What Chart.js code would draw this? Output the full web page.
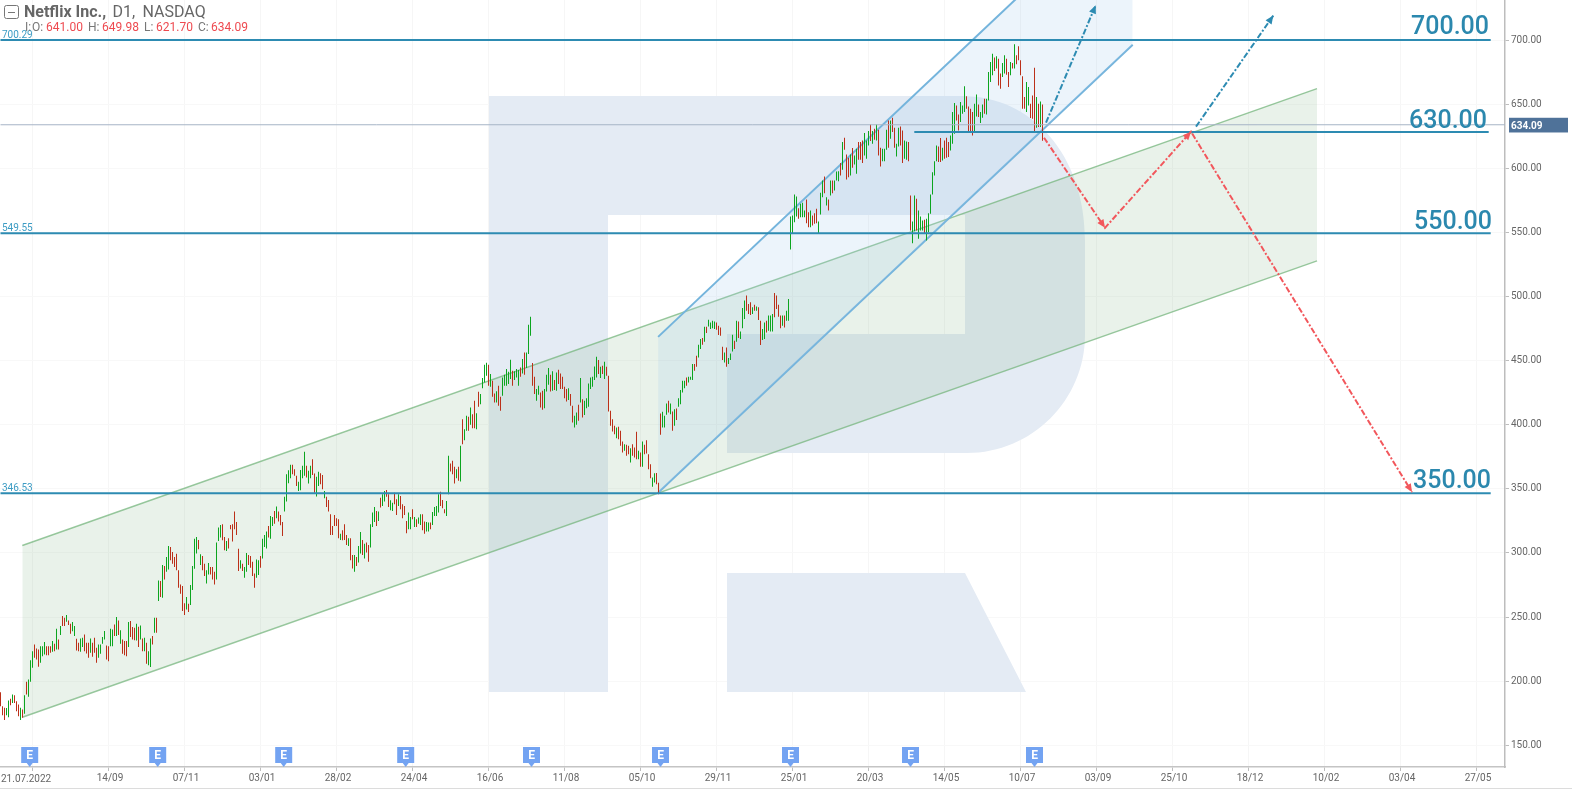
<!DOCTYPE html>
<html>
<head>
<meta charset="utf-8">
<title>Netflix Inc., D1, NASDAQ</title>
<script src="https://cdn.jsdelivr.net/npm/chart.js@4"></script>
<style>
html, body { margin: 0; padding: 0; background: #fff; }
canvas { display: block; }
</style>
</head>
<body>
<canvas id="chart" width="1572" height="789"></canvas>
<script>
// daily bars, one block per 10 sessions
let barHighs = [
191.4,180.5,179.2,179,184.9,186.2,189.6,189,184.4,181.8,
179.2,177.9,189.1,199.5,201.3,216.4,223.4,228.6,225.5,224.7,
227.3,227.3,230.5,227.3,227.3,227.3,231.3,229.2,240.9,232.6,
243,250.8,249.5,251.6,247.4,244.8,246.1,243,233.1,229.9,
233.3,233.9,236.5,229.9,229.9,233.3,229.9,233.9,226,228.6,
228.6,234.4,239.1,227.9,227.3,240.9,240.4,244.3,250,247.4,
239.8,232.6,231.3,231.3,246.1,246.9,242.2,241.7,244.8,242.5,
243.5,233.3,233.9,229.9,223.4,233.3,235.2,249.5,249.5,278.6,
278.1,290.6,289.8,296.9,305.5,304.7,300.8,296.9,299.5,286.5,
275.5,274.2,260.7,265.6,260.4,275,289.8,311.2,312.5,310.2,
299,297.7,291.7,286.5,292.2,289.1,289.1,285.4,308.1,319.8,
321.9,322.4,312.5,309.4,311.5,321.9,322.4,332.3,324.2,303.4,
294.3,291.7,289.1,300,298.4,297.7,293.2,284.1,295,294.3,
297.7,311.2,314.1,316.7,321.1,328.9,328.1,332.8,336.2,332.3,
329.7,324.2,343.8,361.5,364.6,368.8,368.8,365.4,360.2,355.5,
364.8,368,378.9,368,364.1,368,373.2,362,359.4,363.3,
362.2,360.9,348.4,343.8,341.4,330.2,321.1,329.7,327.1,326.3,
315.1,317.7,322.4,314.1,311.5,311.5,298.4,298.4,296.9,305.5,
316.4,310.2,307.3,308.1,306.3,322.4,331.5,335.9,332.8,332.3,
343.2,345.8,348.4,349.2,345.8,341.1,339.3,347.1,341.9,345.8,
344.5,338,336.7,325,331.5,328.1,334.1,328.1,326.3,327.6,
330.2,330.2,324.5,324.2,323.7,323.7,332,335.9,336.7,345.8,
347.7,341.4,334.1,340.6,375.8,369.8,371.9,367.2,365.4,367.2,
383.6,404.4,396.6,407,406.3,413.5,408.3,418.8,409.1,425.8,
424,436.5,446.9,448.4,446.9,439.6,434.4,424.5,426.1,430.5,
421.9,437,439.1,443.5,441.4,450.8,442.2,441.7,443.5,442.7,
444.8,451.3,456.5,456.5,478.1,484.4,448.2,437.5,427.9,430.5,
425.3,426.6,427.9,439.1,444.3,439.1,441.7,434.9,440.9,443,
440.1,437.5,429.7,427.9,428.6,424,414.9,407,409.6,415.6,
436.5,420,418.8,420.8,432.3,437,437.5,445.6,453.1,450.5,
445.3,446.1,449.2,445.3,438.3,410.9,404.4,399.2,397.9,398.4,
395.3,387,384.9,384.4,383.6,381.8,384.9,382.3,394.5,379.7,
378.4,387,384.4,388,377.1,369.3,358.9,362.2,362.5,354.9,
408.9,410.2,407,416.7,418.8,416.7,410.4,412.2,412.8,420.8,
427.1,434.4,434.4,437,437.5,437.5,447.4,447.4,453.9,462.5,
466.9,467.7,476.6,476.6,482,479.9,481.2,480.7,479.9,477.3,
476,460.9,456.5,460.4,452.1,455.7,470.3,465.6,481.2,480.7,
472.9,491.1,496.9,500.8,494.3,495.6,491.7,493.7,492.4,491.7,
481.2,474.7,479.9,481.2,485.2,485.2,486.5,502.9,500.8,493.7,
485.2,485.2,485.2,489,498.2,562.5,563.3,579.7,578.1,569,
572.4,573.2,567.2,575.8,565.9,567.2,563.3,565.1,568.5,558.6,
581,590.6,593.8,577.6,575.8,590.6,590.6,590.6,597.7,597.9,
604.2,620.6,624,610.9,608.3,610.9,615.9,610.2,615.4,620.6,
620.6,621.9,627.6,621.9,629.2,634.4,629.2,631,634.4,630.2,
616.2,615.4,615.4,630.2,637.5,637.5,639.6,631.8,619.3,631.8,
632.8,629.7,621.9,621.1,620.6,578.9,558.6,578.9,576.3,567.2,
562.5,559.4,559.9,560.7,565.1,579.7,597.1,605.7,618,617.2,
623.7,616.2,621.9,624,620.6,625.8,644,651,649.2,642.2,
651.8,649.2,664.1,656.3,648.4,646.6,644,650.5,657.8,650,
644,650,654.4,654.4,675.3,683.1,689.6,686.5,687.5,685.7,
674,682.3,688.3,685.7,675.3,683.1,682.3,696.9,688.3,695.3,
684.4,671.9,655.7,667.4,663.5,650.5,657,678.6,655.7,650.5,
652.3,649.98
];
let barLows = [
180.5,173.4,169.8,173.4,171.9,181.2,183,183,176.6,172.7,
169.8,171.4,174.5,189.6,187.8,199.5,210.4,218.2,216.9,211.2,
214.3,219.5,220.8,220.3,220.3,222.1,222.9,223.4,224.7,224.7,
236,243,243,246.4,243.8,237,239,235.2,224,223.4,
222.9,226.6,223.4,221.6,218.2,222.1,219,222.1,214.3,218.2,
221.4,229.2,232.6,217,215.6,227.3,227.3,235.2,235.2,236,
229.2,221.4,220.3,219.5,226.6,234.4,232.6,232,231.8,226.6,
232.6,223.4,223.4,213.5,212.5,211,228.6,237.8,237.8,262.5,
265.6,265.1,279.4,285.4,287.2,294.3,291.7,289.1,286.5,272.9,
268.2,254.7,251.6,256,253.9,259.4,271.1,287.8,299.7,302.9,
290.6,286.5,282,276.3,283.3,283.3,279.4,275.5,279.4,309.4,
312,309.9,302.1,301.6,303.6,318.5,308.9,318.5,314.1,285.9,
288,285.9,280.7,285.4,290.6,288.5,282,272.9,280.7,282.8,
288.5,295.8,304.7,303.6,312,311.2,321.1,322.9,327.1,324.5,
321.6,313.3,332.3,340.1,354.4,358.3,361.5,360.2,352.3,348.4,
348.9,358.3,360.2,358.9,354.2,358.3,360.9,347.1,344,352.3,
353.6,349.7,342.7,335.9,332.3,314.1,314.1,321.1,321.1,311.5,
310.2,309.9,310.2,306.3,305.5,294.3,288,285.4,289.8,292.5,
299.7,298.4,295.8,300.3,293.2,304.2,320.3,324.2,321.1,325,
335.4,336.7,340.1,343.8,335.9,333.3,332.8,338,329.7,336.7,
334.1,327.1,329.7,315.4,318.5,318.5,326.3,320.3,320.3,322.9,
321.9,317.7,315.1,316.7,316.7,318.5,321.9,328.9,328.9,331.5,
336.7,334.9,331,328.9,345.8,363.5,361.5,354.2,358.3,356.3,
355.7,384.9,388,395.3,395.3,400,397.4,397.4,396.6,414.1,
416.1,428.6,433.1,438.3,430.5,429.7,421.9,417.5,417.5,414.8,
410.9,422.7,430.5,430.5,431.8,435.7,430.5,434.9,437,430.5,
437.5,440.1,439.1,444.3,455.2,469.5,430.5,424,418.8,423.4,
413.5,411.7,413,426,431.3,426,426.6,427.1,426.6,431.8,
427.9,427.9,420.8,418.2,419.3,414.9,401.8,397.9,400,403.1,
417.5,405.7,407.6,413,414.1,427.9,429.7,434.9,437,439.6,
436.5,439.6,435.7,438.3,410.4,399.2,394.8,392.7,389.6,388.8,
383.6,378.4,379.7,375.8,377.1,370.6,375.8,374.5,373.2,373.2,
367.2,367.2,377.1,377.6,365.4,358.3,351.6,355,353.7,345.8,
392.2,397.9,397.9,407.8,409.6,408.3,395.3,399.2,403.7,414.1,
416.1,425.3,428.6,430.5,433.1,435.2,434.9,442.2,445.3,452.6,
459.1,462.5,464.8,471.6,476.8,474.7,475.3,474.7,474.2,470,
469.5,450.5,448.7,445.3,447.4,450.5,457.3,459.1,464.8,467.7,
466.9,475.3,482.6,489,486.5,485.7,486.5,489,489,481.8,
462.2,466.1,466.9,472.1,473.4,472.9,472.9,483.9,490.4,484.4,
475.3,477.3,476,481.2,481.2,536.7,549,558.1,562.5,560.7,
562,562,562,557.3,554.2,554.2,555.5,556.8,557.3,549,
564.1,577.6,580.7,571.1,567.2,578.9,580.7,582.8,590.6,590,
594.5,599,614.6,591.4,593.2,594.5,600.5,603.1,595.8,606.8,
606.8,604.2,610.2,607.6,618,621.4,619.3,622.4,621.9,610.2,
601.6,605.7,605.7,614.6,616.2,623.2,628.4,616.2,609.4,617.2,
618,604.2,607.6,606.8,605.7,551.6,541.7,551,551.6,545.1,
551.6,551.6,549,543.8,550.3,564.6,579.7,594.5,605.7,605,
605,606.3,607.6,608.3,608.9,614.1,619.3,627.1,637.5,629.7,
636.2,642.7,644,646.6,628.4,628.4,625.8,628.4,640.6,640.1,
635.4,639.6,642.7,642.2,653.1,667.5,672.7,676,677.9,664.8,
662.2,671.4,674,673.2,663.5,672.7,677.9,677.9,681.3,684.4,
672.7,646.6,646.6,644,649.2,639.3,638.8,629.2,631.8,632.3,
632.3,621.7
];
// G = up bar, R = down bar
let barSides = [
"RRRGGRGRRR","GRGRGGGRRR","GGGRRRGRGR","GRRGRRGGRR","GGRRRGRRRG","GGGRRGGRGR",
"GRRRGRRRGR","GRGRGGRGRG","RGRGGRRRRR","RRRGRGGGGR","GRRGGRRRGG","GRRGRRRRRR",
"GRGGRRRRGG","RGGGRGGRGR","RRGGGGRRRG","GGGRGGRRGG","RRGRRRRRRR","GRRRGRRGRG",
"GRGRRGGGRG","RGGRRGGRRG","RRRRGGRGRG","GRRGGRGGGG","RRRGGRRRGR","GRGGRGRRGR",
"GGGGRGRRGR","RGGGGGRGGG","RGRGGGRRGG","RRGGGRGRGR","RRRRGRRGGR","GRGGGGGGGR",
"GRGRRRRRGR","RRGRRGRRRG","RGRRRRGGRR","RGGGRGRGRG","GGGRGGGRRG","GRGRGGGGRR",
"RRGRGGGRGR","GGGRRRGRGR","RGGRGGGRRR","RGRGGGGGGR","GGGRRGRRRG","GGRGRGRGGG",
"RGRRRGRGGR","RRGGGRGRGR","RGGGRGRRGG","RRGGRRGGRG","GGRGGGGGGR","RGRRRGGGRR",
"GGGRRRRGGR","GGRGGGGRGR","RGGRRGRGRR","RRRGGRRRGR","GR"
].join("");

let tickBars = [16, 54, 92, 130, 168, 206, 244, 282, 320, 358, 396, 434, 472, 510, 548, 586, 624, 662, 700, 738];
let tickDates = ["21.07.2022", "14/09", "07/11", "03/01", "28/02", "24/04", "16/06", "11/08", "05/10", "29/11", "25/01", "20/03", "14/05", "10/07", "03/09", "25/10", "18/12", "10/02", "03/04", "27/05"];
let priceTicks = [150, 200, 250, 300, 350, 400, 450, 500, 550, 600, 650, 700];
let earningsBars = [14.6, 78.6, 141.6, 202.6, 265.5, 330, 395, 455, 517];

let lastClose = 634.09;
let levelPrices = [700.29, 628.4, 549.55, 346.53];
let levelStart = [0, 456.9, 0, 0];
let levelEnd = [745.1, 744.1, 745.1, 745.1];
let levelTags = ["700.29", "", "549.55", "346.53"];
let targetLabels = ["700.00", "630.00", "550.00", "350.00"];

let greenChannelBars = [10.9, 658.25];
let greenChannelUpper = [305.8, 662.3];
let greenChannelLower = [171.8, 527.9];
let blueChannelBars = [328.8, 566.1];
let blueChannelUpper = [468.6, 818.2];
let blueChannelLower = [347, 696.6];

let blueArrowOneBars = [522.75, 547.6];
let blueArrowOnePrices = [635.7, 727.3];
let blueArrowTwoBars = [597.75, 636.4];
let blueArrowTwoPrices = [632.6, 719.3];
let redArrowBars = [521.75, 552.25, 595.25, 705.75];
let redArrowPrices = [624, 553.7, 628.7, 347.5];

function xyPoints(xs, ys) {
    return xs.map((x, i) => ({x: x, y: ys[i]}));
}

let levelDatasets = levelPrices.map((p, i) => ({
    type: "line",
    data: xyPoints([levelStart[i], levelEnd[i]], [p, p]),
    borderColor: "#2d8bb2",
    borderWidth: 2,
    pointRadius: 0,
    order: 2
}));

function arrowDataset(xs, ys, color) {
    return {
        type: "line",
        isArrow: true,
        data: xyPoints(xs, ys),
        borderColor: color,
        borderWidth: 2,
        borderDash: [6, 2, 2, 2],
        pointRadius: 0,
        order: 1
    };
}

let chartDatasets = [
    {
        type: "line",
        data: xyPoints(greenChannelBars, greenChannelUpper),
        borderColor: "rgba(118,182,126,0.75)",
        borderWidth: 1.5,
        backgroundColor: "rgba(139,187,145,0.19)",
        fill: "+1",
        pointRadius: 0,
        order: 6
    },
    {
        type: "line",
        data: xyPoints(greenChannelBars, greenChannelLower),
        borderColor: "rgba(118,182,126,0.75)",
        borderWidth: 1.5,
        pointRadius: 0,
        order: 6
    },
    {
        type: "line",
        data: xyPoints(blueChannelBars, blueChannelUpper),
        borderColor: "#74b4dc",
        borderWidth: 2,
        backgroundColor: "rgba(160,200,235,0.2)",
        fill: "+1",
        pointRadius: 0,
        order: 5
    },
    {
        type: "line",
        data: xyPoints(blueChannelBars, blueChannelLower),
        borderColor: "#74b4dc",
        borderWidth: 2,
        pointRadius: 0,
        order: 5
    },
    {
        type: "bar",
        data: barHighs.map((h, i) => ({x: i, y: [barLows[i], h]})),
        backgroundColor: barHighs.map((h, i) => barSides[i] == "G" ? "#0ca51f" : "#bb3019"),
        barThickness: 1,
        inflateAmount: 0,
        order: 4
    },
    {
        type: "line",
        data: xyPoints([0, 752.25], [lastClose, lastClose]),
        borderColor: "#a6b4c6",
        borderWidth: 1,
        pointRadius: 0,
        order: 3
    }
].concat(levelDatasets, [
    arrowDataset(blueArrowOneBars, blueArrowOnePrices, "#2d8bb2"),
    arrowDataset(blueArrowTwoBars, blueArrowTwoPrices, "#2d8bb2"),
    arrowDataset(redArrowBars, redArrowPrices, "#f2575c")
]);

// the R logo behind everything
let watermark = {
    id: "watermark",
    beforeDatasetsDraw(chart) {
        let c = chart.ctx;
        c.save();
        c.fillStyle = "#e4ebf4";
        c.beginPath();
        c.moveTo(489, 96);
        c.lineTo(962, 96);
        c.bezierCurveTo(1032, 96, 1085, 155, 1085, 240);
        c.lineTo(1085, 335);
        c.bezierCurveTo(1085, 400, 1032, 453, 967, 453);
        c.lineTo(727, 453);
        c.lineTo(727, 334);
        c.lineTo(965, 334);
        c.lineTo(965, 215);
        c.lineTo(608, 215);
        c.lineTo(608, 692);
        c.lineTo(489, 692);
        c.closePath();
        c.moveTo(727, 573);
        c.lineTo(965, 573);
        c.lineTo(1026, 692);
        c.lineTo(727, 692);
        c.closePath();
        c.fill();
        c.restore();
    }
};

function drawHeader(c) {
    c.strokeStyle = "#777";
    c.lineWidth = 1;
    c.beginPath();
    c.roundRect(4.5, 5.5, 14, 13, 2);
    c.moveTo(8, 12.5);
    c.lineTo(15, 12.5);
    c.stroke();
    c.textAlign = "left";
    c.textBaseline = "alphabetic";
    c.fillStyle = "#666";
    c.font = "bold 16px Roboto";
    c.fillText("Netflix Inc.,", 24, 17);
    c.font = "16px Roboto";
    c.fillText("D1,", 112.5, 17);
    c.fillText("NASDAQ", 142.5, 17);
    let parts = [["I:", 25, 0], ["O:", 32, 0], ["641.00", 46, 1], ["H:", 88, 0], ["649.98", 102, 1], ["L:", 144, 0], ["621.70", 156, 1], ["C:", 198, 0], ["634.09", 211, 1]];
    c.font = "12px Roboto";
    parts.forEach(p => {
        c.fillStyle = p[2] ? "#ee4a50" : "#777";
        c.fillText(p[0], p[1], 31);
    });
}

function drawArrowHead(c, x0, y0, x1, y1, color) {
    let a = Math.atan2(y1 - y0, x1 - x0);
    c.fillStyle = color;
    c.beginPath();
    c.moveTo(x1, y1);
    c.lineTo(x1 - 9 * Math.cos(a - 0.42), y1 - 9 * Math.sin(a - 0.42));
    c.lineTo(x1 - 9 * Math.cos(a + 0.42), y1 - 9 * Math.sin(a + 0.42));
    c.closePath();
    c.fill();
}

let annotations = {
    id: "annotations",
    afterDatasetsDraw(chart) {
        let c = chart.ctx;
        let xs = chart.scales.x;
        let ys = chart.scales.y;
        c.save();

        chart.data.datasets.forEach(d => {
            if(!d.isArrow) return;
            for (let i = 1; i < d.data.length; i++) {
                drawArrowHead(c, xs.getPixelForValue(d.data[i - 1].x), ys.getPixelForValue(d.data[i - 1].y),
                    xs.getPixelForValue(d.data[i].x), ys.getPixelForValue(d.data[i].y), d.borderColor);
            }
        });

        // small level values on the left, big targets on the right
        c.textBaseline = "alphabetic";
        c.textAlign = "left";
        c.font = "10px Roboto";
        c.fillStyle = "#3d9cc4";
        levelTags.forEach((t, i) => {
            c.fillText(t, 2, ys.getPixelForValue(levelPrices[i]) - 2);
        });
        c.textAlign = "right";
        c.font = "500 25px Roboto";
        c.fillStyle = "#2b88ae";
        let labelRight = [1489, 1487, 1492, 1491];
        let labelLift = [6, 4, 4, 5];
        targetLabels.forEach((t, i) => {
            c.fillText(t, labelRight[i], ys.getPixelForValue(levelPrices[i]) - labelLift[i]);
        });

        // earnings flags
        earningsBars.forEach(b => {
            let x = xs.getPixelForValue(b);
            c.fillStyle = "#73a3f2";
            c.beginPath();
            c.moveTo(x - 8.5, 747);
            c.lineTo(x + 8.5, 747);
            c.lineTo(x + 8.5, 763);
            c.lineTo(x + 3, 763);
            c.lineTo(x, 767);
            c.lineTo(x - 3, 763);
            c.lineTo(x - 8.5, 763);
            c.closePath();
            c.fill();
            c.fillStyle = "#fff";
            c.font = "bold 12px Roboto";
            c.textAlign = "center";
            c.fillText("E", x, 759);
        });

        drawHeader(c);

        // last price tag
        let py = ys.getPixelForValue(lastClose);
        c.fillStyle = "#4f7299";
        c.fillRect(1509, py - 7, 59, 14.7);
        c.fillStyle = "#fff";
        c.font = "bold 10px Roboto";
        c.textAlign = "left";
        c.fillText(lastClose.toFixed(2), 1511, py + 4);

        // first date sits flush left, the others are centred on their tick
        c.fillStyle = "#666";
        c.font = "10px Roboto";
        c.fillText(tickDates[0], 1, xs.top + 15);

        c.fillStyle = "#dcdcdc";
        c.fillRect(0, 788, 1572, 1);
        c.restore();
    }
};

function clearPadding(scale) {
    scale.paddingTop = 0;
    scale.paddingBottom = 0;
    scale.paddingLeft = 0;
    scale.paddingRight = 0;
}

new Chart(document.querySelector("#chart"), {
    type: "bar",
    data: { datasets: chartDatasets },
    plugins: [watermark, annotations],
    options: {
        responsive: false,
        animation: false,
        events: [],
        layout: { padding: 0 },
        plugins: {
            legend: { display: false },
            title: { display: false },
            tooltip: { enabled: false }
        },
        scales: {
            x: {
                type: "linear",
                offset: false,
                min: -0.25,
                max: 752.25,
                afterBuildTicks: scale => { scale.ticks = tickBars.map(v => ({value: v})); },
                afterFit: scale => { scale.height = 22; clearPadding(scale); },
                grid: { offset: false, color: "#f6f6f6", tickLength: 4, tickColor: "#bdbdbd" },
                border: { color: "#c4c4c4", width: 1.5 },
                ticks: {
                    autoSkip: false,
                    maxRotation: 0,
                    minRotation: 0,
                    padding: 1,
                    labelOffset: 1.5,
                    color: "#666",
                    font: { family: "Roboto", size: 10 },
                    callback: (v, i) => i == 0 ? "" : tickDates[i]
                }
            },
            y: {
                position: "right",
                min: 133.04,
                max: 731.44,
                afterBuildTicks: scale => { scale.ticks = priceTicks.map(v => ({value: v})); },
                afterFit: scale => { scale.width = 67; clearPadding(scale); },
                grid: { color: "#f8f8f8", tickLength: 4, tickColor: "#bdbdbd" },
                border: { color: "#bdbdbd", width: 1.5 },
                ticks: {
                    padding: 2,
                    color: "#666",
                    font: { family: "Roboto", size: 10 },
                    callback: (v) => v.toFixed(2)
                }
            }
        }
    }
});
</script>
</body>
</html>
